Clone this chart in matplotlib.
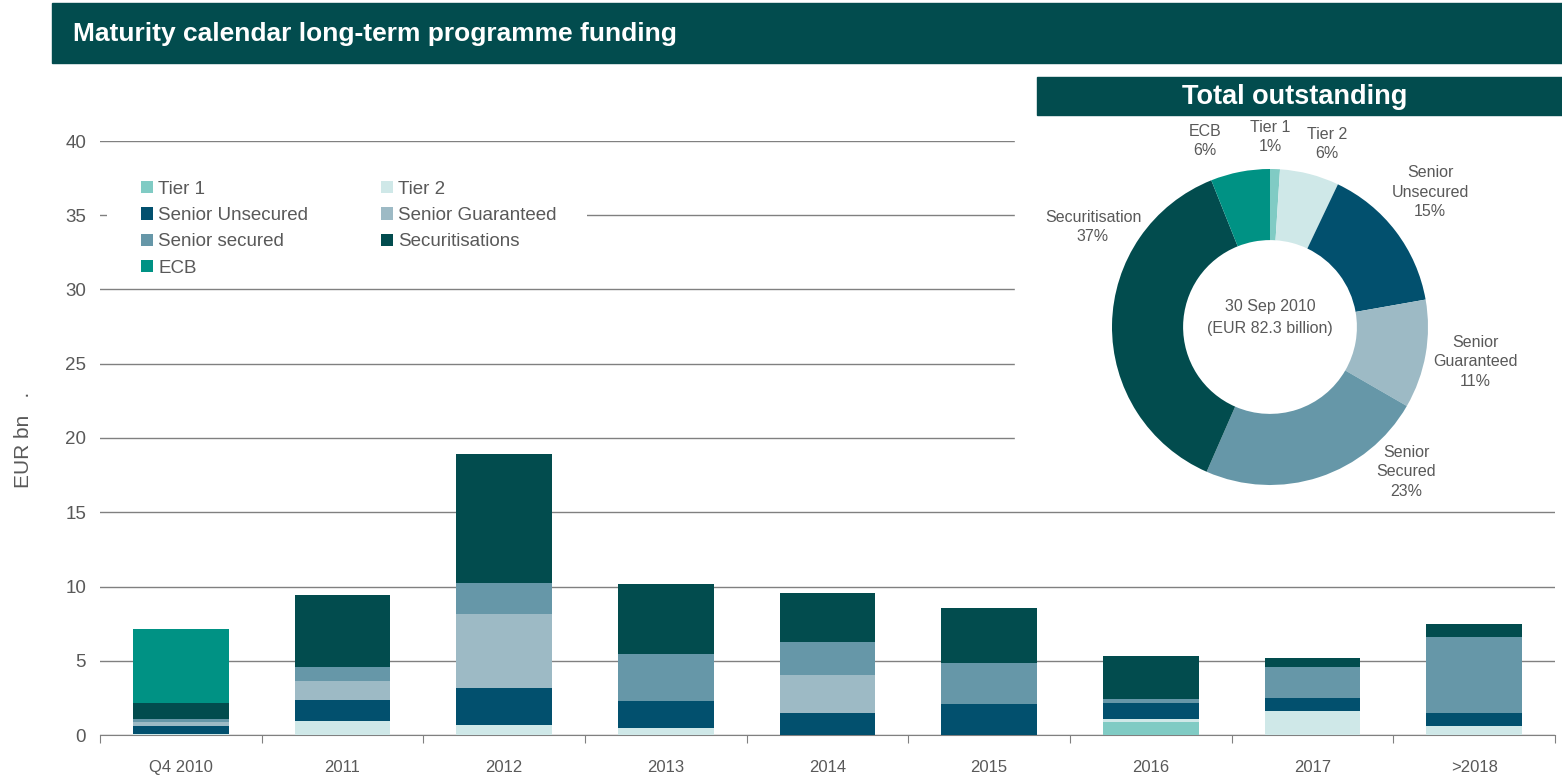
import numpy as np
import matplotlib
matplotlib.use("Agg")
import matplotlib.pyplot as plt
from matplotlib.patches import Rectangle

plt.rcParams['font.family'] = ['Liberation Sans', 'DejaVu Sans']

# ---- data -------------------------------------------------------------
categories = ["Q4 2010", "2011", "2012", "2013", "2014", "2015", "2016", "2017", ">2018"]

tier1 = [0.00, 0.00, 0.00, 0.00, 0.00, 0.00, 0.87, 0.00, 0.00]
tier2 = [0.10, 0.94, 0.67, 0.47, 0.00, 0.00, 0.20, 1.62, 0.61]
senior_unsecured = [0.50, 1.42, 2.49, 1.82, 1.48, 2.09, 1.07, 0.87, 0.87]
senior_guaranteed = [0.27, 1.27, 4.98, 0.00, 2.56, 0.00, 0.00, 0.00, 0.00]
senior_secured = [0.20, 0.95, 2.09, 3.16, 2.22, 2.76, 0.27, 2.09, 5.12]
securitisations = [1.07, 4.84, 8.67, 4.71, 3.30, 3.70, 2.90, 0.60, 0.87]
ecb = [4.98, 0.00, 0.00, 0.00, 0.00, 0.00, 0.00, 0.00, 0.00]

series_names = ["Tier 1", "Tier 2", "Senior Unsecured", "Senior Guaranteed",
                "Senior secured", "Securitisations", "ECB"]
series_values = [tier1, tier2, senior_unsecured, senior_guaranteed,
                 senior_secured, securitisations, ecb]

y_ticks = [0, 5, 10, 15, 20, 25, 30, 35, 40]

# total outstanding split (percent of EUR 82.3 bn)
pie_labels = ["Tier 1", "Tier 2", "Senior\nUnsecured", "Senior\nGuaranteed",
              "Senior\nSecured", "Securitisation", "ECB"]
pie_pct = [1, 6, 15, 11, 23, 37, 6]

# ---- styling ----------------------------------------------------------
colors = ["#80CBC4", "#CFE8E8", "#02506E", "#9DBAC5", "#6697A8", "#024C4E", "#009284"]
dark = "#024C4E"
txt = "#595959"
grid = "#808080"

W, H = 1562, 776
fig = plt.figure(figsize=(W / 100, H / 100), dpi=100)


def fbox(x0, y0, x1, y1):
    """figure-fraction rect from pixel corners (top-left origin)"""
    return [x0 / W, 1 - y1 / H, (x1 - x0) / W, (y1 - y0) / H]


# ---- stacked bars -----------------------------------------------------
ax = fig.add_axes(fbox(100, 141, 1555, 735))
x = np.arange(len(categories))
bottom = np.zeros(len(categories))
handles = []
for name, vals, col in zip(series_names, series_values, colors):
    b = ax.bar(x, vals, width=0.59, bottom=bottom, color=col, label=name, zorder=3)
    handles.append(b)
    bottom += np.array(vals)

ax.set_xlim(-0.5, len(categories) - 0.5)
ax.set_ylim(0, 40)
ax.set_yticks(y_ticks)
ax.set_yticklabels([str(v) for v in y_ticks], fontsize=13.5, color=txt)
ax.tick_params(axis='y', length=0, pad=10)
ax.yaxis.grid(True, color=grid, linewidth=1.0, zorder=0)
ax.set_axisbelow(True)

ax.set_xticks(np.arange(-0.5, len(categories), 1.0))
ax.set_xticklabels([])
ax.set_xticks(x, minor=True)
ax.set_xticklabels(categories, minor=True, fontsize=12, color=txt)
ax.tick_params(axis='x', which='major', length=6, direction='out', color=grid)
ax.tick_params(axis='x', which='minor', length=0, pad=18)

for s in ("top", "right", "left"):
    ax.spines[s].set_visible(False)
ax.spines["bottom"].set_color(grid)

fig.text(24 / W, 1 - 440 / H, "EUR bn   .", rotation=90, ha='center', va='center',
         fontsize=15, color=txt)

# white backing behind the legend block (hides the gridline it sits on)
ax.add_patch(Rectangle(((107 - 100) / 1455, (735 - 262) / 594), (587 - 107) / 1455,
                       (262 - 170) / 594, transform=ax.transAxes, facecolor='white',
                       edgecolor='none', zorder=4))

# legend laid out row by row: left column, then right column
order = [0, 2, 4, 6, 1, 3, 5]
leg = ax.legend([handles[i] for i in order], [series_names[i] for i in order],
                ncol=2, loc='upper left', bbox_to_anchor=(0.0243, 0.9428),
                frameon=False, fontsize=13.5, handlelength=0.65, handleheight=0.65,
                handletextpad=0.28, columnspacing=3.85, labelspacing=0.5,
                borderpad=0.3, borderaxespad=0, labelcolor=txt)
leg.set_zorder(5)

# ---- header bar -------------------------------------------------------
fig.patches.append(Rectangle((52 / W, 1 - 63 / H), (1562 - 52) / W, 60 / H,
                             transform=fig.transFigure, color=dark, zorder=1))
fig.text(73 / W, 1 - 34 / H, "Maturity calendar long-term programme funding",
         ha='left', va='center', fontsize=19, fontweight='bold', color='white')

# ---- donut panel ------------------------------------------------------
fig.patches.append(Rectangle((1015 / W, 1 - 503 / H), (1562 - 1015) / W, (503 - 70) / H,
                             transform=fig.transFigure, color='white', zorder=2))
fig.patches.append(Rectangle((1037 / W, 1 - 115 / H), (1562 - 1037) / W, 38 / H,
                             transform=fig.transFigure, color=dark, zorder=3))
fig.text(1295 / W, 1 - 97 / H, "Total outstanding", ha='center', va='center',
         fontsize=19.5, fontweight='bold', color='white', zorder=4)

cx, cy, R = 1270, 327, 158
pax = fig.add_axes(fbox(cx - R, cy - R, cx + R, cy + R))
pax.set_zorder(4)
pax.pie(pie_pct, colors=colors, startangle=90, counterclock=False,
        wedgeprops=dict(width=0.45, linewidth=0))
pax.set_xlim(-1, 1)
pax.set_ylim(-1, 1)
pax.set_aspect('equal')
pax.axis('off')

label_pos = [(1270, 137), (1327, 144), (1430, 192), (1475, 362),
             (1406, 472), (1093, 227), (1205, 141)]
for lab, pct, (px, py) in zip(pie_labels, pie_pct, label_pos):
    pax.text((px - cx) / R, (cy - py) / R, f"{lab}\n{pct}%", ha='center', va='center',
             fontsize=11.5, color=txt, linespacing=1.4, clip_on=False)

pax.text(0, (cy - 307) / R, "30 Sep 2010", ha='center', va='center', fontsize=11.5, color=txt)
pax.text(0, (cy - 329) / R, "(EUR 82.3 billion)", ha='center', va='center',
         fontsize=11.5, color=txt)

fig.savefig("out.png", dpi=100, facecolor='white')
